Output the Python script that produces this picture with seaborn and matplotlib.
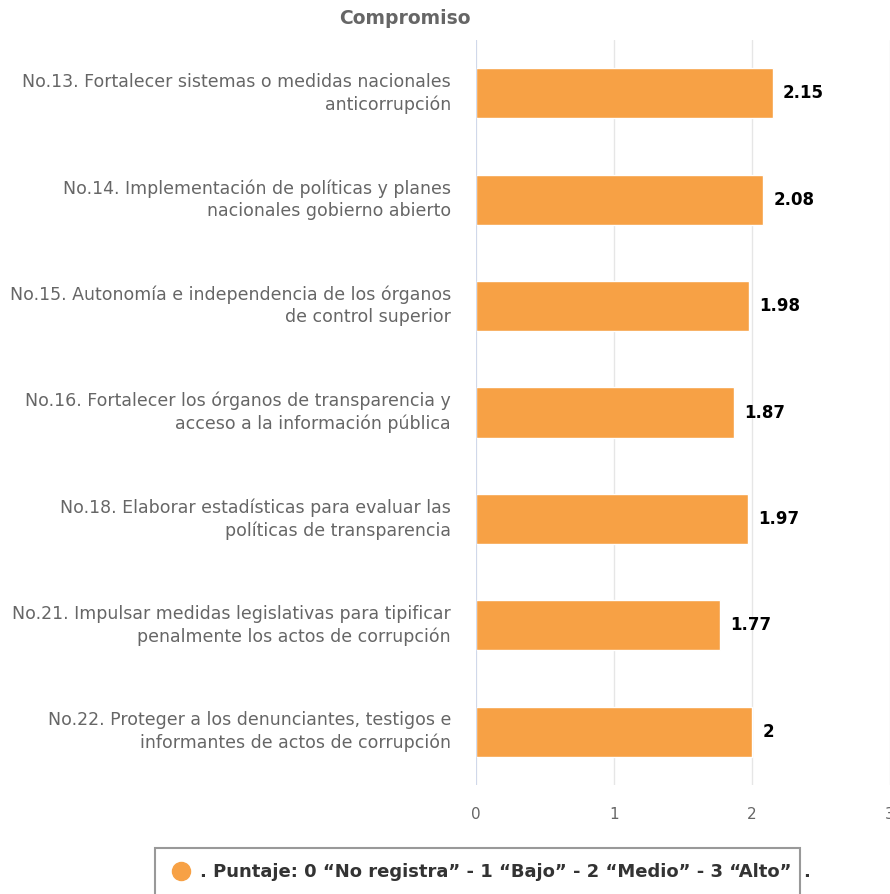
import matplotlib
matplotlib.use("Agg")
import matplotlib.pyplot as plt
import seaborn as sns
import pandas as pd
from matplotlib.lines import Line2D
from matplotlib.patches import Rectangle
from matplotlib.transforms import ScaledTranslation

categories = [
    "No.13. Fortalecer sistemas o medidas nacionales\nanticorrupción",
    "No.14. Implementación de políticas y planes\nnacionales gobierno abierto",
    "No.15. Autonomía e independencia de los órganos\nde control superior",
    "No.16. Fortalecer los órganos de transparencia y\nacceso a la información pública",
    "No.18. Elaborar estadísticas para evaluar las\npolíticas de transparencia",
    "No.21. Impulsar medidas legislativas para tipificar\npenalmente los actos de corrupción",
    "No.22. Proteger a los denunciantes, testigos e\ninformantes de actos de corrupción",
]
values = [2.15, 2.08, 1.98, 1.87, 1.97, 1.77, 2]
value_labels = ["2.15", "2.08", "1.98", "1.87", "1.97", "1.77", "2"]
x_ticks = [0, 1, 2, 3]
title = "Compromiso"
legend_label = ". Puntaje: 0 “No registra” - 1 “Bajo” - 2 “Medio” - 3 “Alto”"

df = pd.DataFrame({"cat": categories, "val": values})

sns.set_style("white")
plt.rcParams["font.family"] = ["DejaVu Sans"]

fig = plt.figure(figsize=(8.9, 8.94), dpi=100)
ax = fig.add_axes([476 / 890, 1 - 785 / 894, 414 / 890, 745 / 894])

color = "#F7A145"
sns.barplot(data=df, x="val", y="cat", color=color, width=0.47, ax=ax,
            saturation=1, orient="h")

ax.set_xlim(0, 3)
ax.set_ylim(6.5, -0.5)
ax.set_xticks(x_ticks)
ax.set_xticklabels([str(t) for t in x_ticks])
ax.grid(axis="x", color="#e6e6e6", linewidth=1)
ax.set_axisbelow(True)
for s in ax.spines.values():
    s.set_visible(False)
ax.axvline(0, color="#ccd6eb", linewidth=1.2, zorder=1)
ax.tick_params(axis="both", length=0)
ax.tick_params(axis="x", pad=16, labelsize=11, labelcolor="#666666")
ax.tick_params(axis="y", pad=18, labelsize=12.5, labelcolor="#666666")
shift = ScaledTranslation(0, 3 / 72, fig.dpi_scale_trans)
for lab in ax.get_yticklabels():
    lab.set_horizontalalignment("right")
    lab.set_multialignment("right")
    lab.set_linespacing(1.3)
    lab.set_transform(lab.get_transform() + shift)
ax.set_xlabel("")
ax.set_ylabel("")

for i, (v, t) in enumerate(zip(values, value_labels)):
    ax.text(v + 0.075, i, t, va="center", ha="left", fontsize=12,
            fontweight="bold", color="#000000")

fig.text(405 / 890, 1 - 18 / 894, title, ha="center", va="center",
         fontsize=13.5, fontweight="bold", color="#666666")

# legend box
fig.add_artist(Rectangle((155 / 890, 1 - 905 / 894), 645 / 890, 57 / 894,
                         transform=fig.transFigure, facecolor="white",
                         edgecolor="#999999", linewidth=1.5, zorder=1))
handle = Line2D([], [], marker="o", linestyle="", markersize=13,
                markerfacecolor=color, markeredgecolor=color)
leg = fig.legend([handle], [legend_label], loc="center left",
                 bbox_to_anchor=(170 / 890, 1 - 872 / 894), frameon=False,
                 prop={"size": 13, "weight": "bold"}, handletextpad=0.45,
                 handlelength=1.2, borderpad=0, borderaxespad=0)
leg.set_zorder(3)
for t in leg.get_texts():
    t.set_color("#333333")
fig.text(803 / 890, 1 - 872 / 894, ".", ha="left", va="center",
         fontsize=13, fontweight="bold", color="#333333", zorder=4)

fig.savefig("out.png", dpi=100)
